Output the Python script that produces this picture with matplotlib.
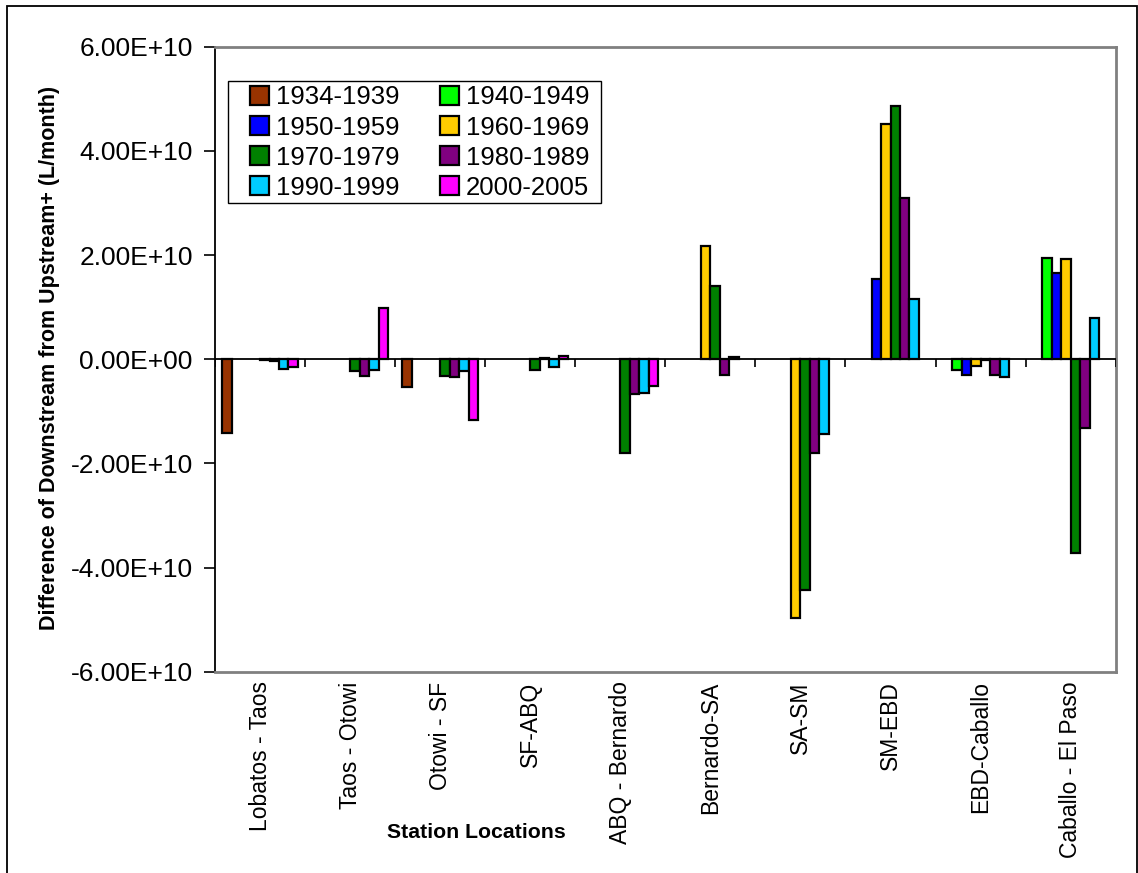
import numpy as np
import matplotlib
matplotlib.use("Agg")
import matplotlib.pyplot as plt
from matplotlib.patches import Rectangle
from matplotlib.ticker import FuncFormatter, FixedLocator

plt.rcParams['font.family'] = ['Liberation Sans', 'DejaVu Sans']

nan = np.nan

stations = ['Lobatos - Taos', 'Taos - Otowi', 'Otowi - SF', 'SF-ABQ', 'ABQ - Bernardo',
            'Bernardo-SA', 'SA-SM', 'SM-EBD', 'EBD-Caballo', 'Caballo - El Paso']

periods = ['1934-1939', '1940-1949', '1950-1959', '1960-1969',
           '1970-1979', '1980-1989', '1990-1999', '2000-2005']

# Differences in units of 1E10 L/month
p1934 = [-1.42, nan, -0.53, nan, nan, nan, nan, nan, nan, nan]
p1940 = [nan, nan, nan, nan, nan, nan, nan, nan, -0.21, 1.95]
p1950 = [nan, nan, nan, nan, nan, nan, nan, 1.54, -0.30, 1.66]
p1960 = [nan, nan, nan, nan, nan, 2.17, -4.97, 4.51, -0.13, 1.92]
p1970 = [-0.02, -0.22, -0.33, -0.21, -1.80, 1.40, -4.43, 4.87, -0.02, -3.72]
p1980 = [-0.04, -0.33, -0.34, 0.03, -0.66, -0.31, -1.80, 3.09, -0.31, -1.33]
p1990 = [-0.19, -0.20, -0.22, -0.15, -0.65, 0.04, -1.43, 1.15, -0.34, 0.79]
p2000 = [-0.15, 0.99, -1.16, 0.06, -0.51, nan, nan, nan, nan, nan]

series = [p1934, p1940, p1950, p1960, p1970, p1980, p1990, p2000]
colors = ['#993300', '#00FF00', '#0000FF', '#FFCC00',
          '#008000', '#800080', '#00CCFF', '#FF00FF']

W, H = 1138, 873
AX_L, AX_R, AX_T, AX_B = 215, 1115.7, 46.7, 671.7
fig = plt.figure(figsize=(W / 100, H / 100), dpi=100)
ax = fig.add_axes([AX_L / W, 1 - AX_B / H, (AX_R - AX_L) / W, (AX_B - AX_T) / H])


def ax_frac(px, py):
    """Pixel position on the canvas -> axes fraction."""
    return (px - AX_L) / (AX_R - AX_L), (AX_B - py) / (AX_B - AX_T)


x = np.arange(len(stations))
n = len(series)
w = 1.0 / (n + 1.5)
handles = []
for i, (vals, c, lab) in enumerate(zip(series, colors, periods)):
    v = np.array(vals, dtype=float) * 1e10
    h = ax.bar(x + (i - (n - 1) / 2) * w, v, width=w, color=c, edgecolor='black',
               linewidth=1.6, label=lab, zorder=3)
    handles.append(h)

ax.set_xlim(-0.5, len(stations) - 0.5)
ax.set_ylim(-6e10, 6e10)
ax.yaxis.set_major_locator(FixedLocator(np.arange(-6e10, 6.01e10, 2e10)))
ax.yaxis.set_major_formatter(FuncFormatter(lambda v, p: f"{v:.2E}"))
ax.tick_params(axis='y', direction='out', length=8, width=1.2, pad=8,
               labelsize=19, color='black')

ax.set_xticks(x)
ax.set_xticklabels(stations, rotation=90, fontsize=16.5, va='top')
ax.tick_params(axis='x', length=0, pad=7)

# category axis sits on zero with tick marks between groups
ax.axhline(0, color='black', linewidth=1.3, zorder=4)
bounds = np.arange(-0.5, len(stations), 1.0)
ax.vlines(bounds, -0.15e10, 0, color='black', linewidth=1.2, zorder=4)

for side in ['top', 'right', 'bottom']:
    ax.spines[side].set_color('#808080')
    ax.spines[side].set_linewidth(2)
ax.spines['left'].set_color('black')
ax.spines['left'].set_linewidth(1.3)

# legend box
x0, y0 = ax_frac(228.3, 202.7)
x1, y1 = ax_frac(601, 80.7)
ax.add_patch(Rectangle((x0, y0), x1 - x0, y1 - y0, transform=ax.transAxes,
                       facecolor='white', edgecolor='black', linewidth=1.0,
                       zorder=5))

# legend entries filled row by row
order = [0, 2, 4, 6, 1, 3, 5, 7]
leg = ax.legend([handles[k] for k in order], [periods[k] for k in order],
                ncol=2, loc='upper left', bbox_to_anchor=ax_frac(250, 85.5),
                fontsize=18.5, frameon=False,
                handlelength=0.72, handleheight=0.72, handletextpad=0.28,
                columnspacing=1.6, labelspacing=0.235, borderpad=0,
                borderaxespad=0)
leg.set_zorder(6)

fig.text(50 / W, 1 - 357.5 / H, 'Difference of Downstream from Upstream+ (L/month)',
         rotation=90, ha='center', va='center', fontsize=15.5, fontweight='bold')
fig.text(476 / W, 1 - 833 / H, 'Station Locations', ha='center', va='center',
         fontsize=15.3, fontweight='bold')

# outer chart frame
fig.add_artist(Rectangle((7 / W, -0.05), (1136.7 - 7) / W, 1.05 - 6.5 / H,
                         transform=fig.transFigure, fill=False,
                         edgecolor='black', linewidth=1.3))

fig.savefig('out.png', dpi=100)
